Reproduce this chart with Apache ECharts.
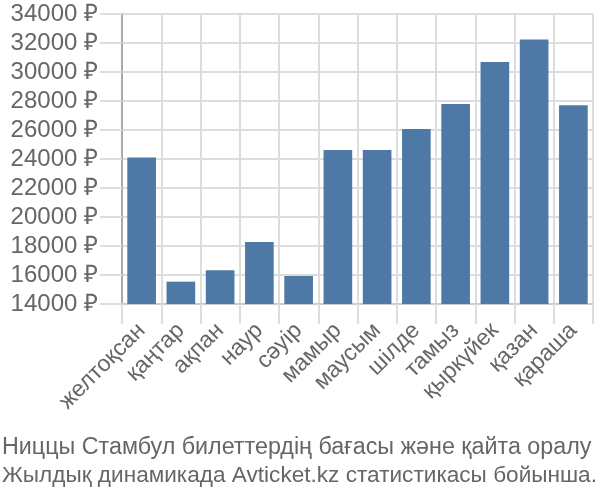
<!DOCTYPE html>
<html>
<head>
<meta charset="utf-8">
<script src="https://cdn.jsdelivr.net/npm/echarts@6/dist/echarts.min.js"></script>
<style>html,body{margin:0;padding:0;background:#fff}#c{width:600px;height:500px}</style>
</head>
<body>
<div id="c"></div>
<script>
const categories = ['желтоқсан','қаңтар','ақпан','наур','сәуір','мамыр','маусым','шілде','тамыз','қыркүйек','қазан','қараша'];
const prices = [24100, 15540, 16320, 18280, 15930, 24620, 24620, 26070, 27790, 30690, 32250, 27700];
const yMin = 14000, yMax = 34000, yStep = 2000;
const currency = '₽';
const titleLines = ['Ниццы Стамбул билеттердің бағасы және қайта оралу', 'Жылдық динамикада Avticket.kz статистикасы бойынша.'];

const font = 'Liberation Sans, Arial, sans-serif';
const chart = echarts.init(document.getElementById('c'), null, {renderer: 'canvas'});
chart.setOption({
  animation: false,
  title: {
    text: '{a|' + titleLines[0] + '}\n{b|' + titleLines[1] + '}',
    left: -3, top: 429,
    textStyle: {
      fontFamily: font, fontSize: 23, fontWeight: 'normal', color: '#666', lineHeight: 28,
      rich: {
        a: {fontFamily: font, fontSize: 23.3, color: '#666', lineHeight: 28},
        b: {fontFamily: font, fontSize: 22.6, color: '#666', lineHeight: 28}
      }
    }
  },
  grid: {left: 122, right: 7, top: 14, bottom: 196, containLabel: false},
  xAxis: {
    type: 'category',
    data: categories,
    axisLine: {lineStyle: {color: '#ccc', width: 2}},
    axisTick: {show: true, length: 20, lineStyle: {color: '#ddd', width: 2}},
    splitLine: {show: true, lineStyle: {color: '#ddd', width: 2}},
    axisLabel: {rotate: 45, margin: 23, fontFamily: font, fontSize: 23, color: '#666', interval: 0}
  },
  yAxis: {
    type: 'value',
    min: yMin, max: yMax, interval: yStep,
    axisLine: {show: true, lineStyle: {color: '#aaa', width: 2}},
    axisTick: {show: true, length: 22, lineStyle: {color: '#ddd', width: 2}},
    splitLine: {show: true, lineStyle: {color: '#ddd', width: 2}},
    axisLabel: {margin: 24, fontFamily: font, fontSize: 24, color: '#666', formatter: v => v + ' ' + currency}
  },
  series: [{
    type: 'bar',
    data: prices,
    barCategoryGap: '27%',
    itemStyle: {color: '#4e79a7'}
  }]
});
</script>
</body>
</html>
